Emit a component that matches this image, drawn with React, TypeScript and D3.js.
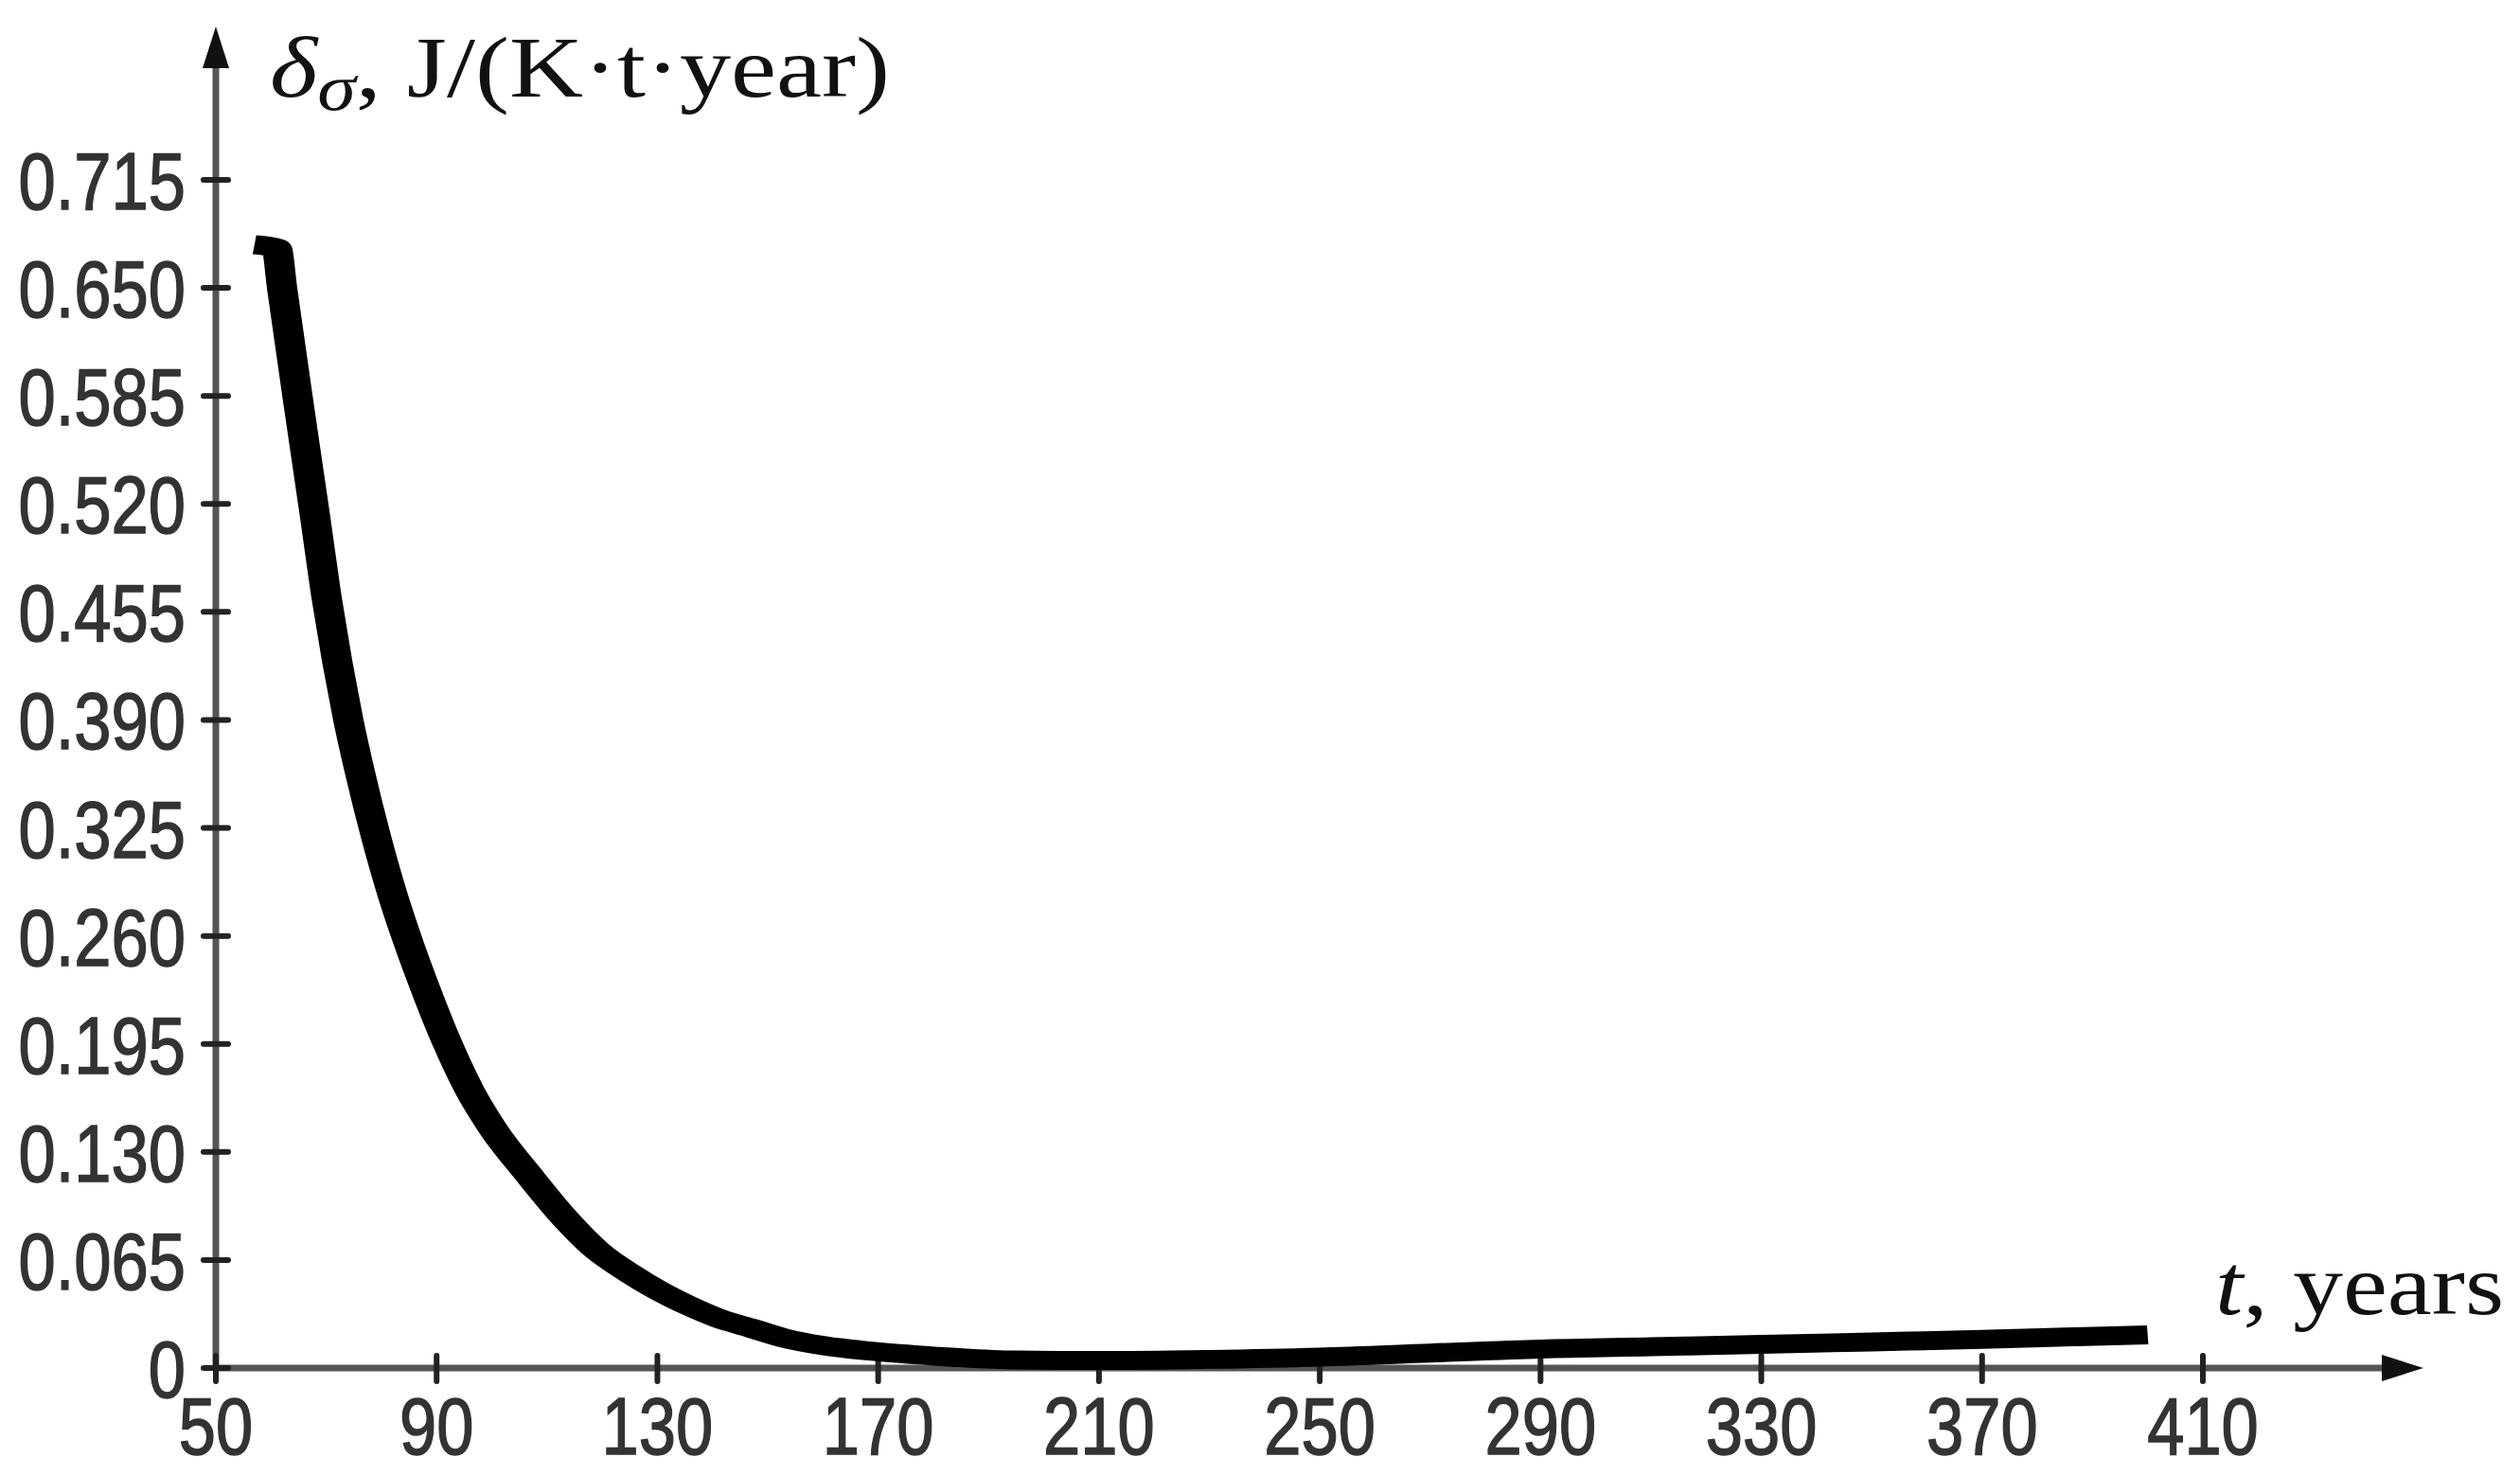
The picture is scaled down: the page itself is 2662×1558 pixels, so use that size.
import React, { useEffect, useRef } from 'react';
import * as d3 from 'd3';

// curve: t (years) and delta_sigma (J/(K·t·year))
const years = [
  57, 61, 62, 65, 68, 70, 72, 74, 76, 79, 82, 85, 88, 92, 96, 100, 107, 113,
  119, 125, 130, 136, 141, 147, 153, 160, 170, 180, 195, 210, 230, 250, 270,
  290, 310, 330, 350, 370, 385, 400,
];
const deltaSigma = [
  0.676, 0.674, 0.65, 0.58, 0.512, 0.465, 0.425, 0.39, 0.36, 0.32, 0.285,
  0.255, 0.228, 0.195, 0.167, 0.145, 0.115, 0.091, 0.071, 0.057, 0.047, 0.037,
  0.03, 0.024, 0.018, 0.0135, 0.0097, 0.0072, 0.0048, 0.0045, 0.0052, 0.0066,
  0.009, 0.0114, 0.0128, 0.0142, 0.0157, 0.0172, 0.0186, 0.02,
];

const xTicks = [50, 90, 130, 170, 210, 250, 290, 330, 370, 410];
const yTicks = [0, 0.065, 0.13, 0.195, 0.26, 0.325, 0.39, 0.455, 0.52, 0.585, 0.65, 0.715];
const yTickLabels = ['0', '0.065', '0.130', '0.195', '0.260', '0.325', '0.390', '0.455', '0.520', '0.585', '0.650', '0.715'];

const W = 2662;
const H = 1558;
const LABEL_SIZE = 86;

// narrow-font width for a numeric label (no condensed font is installed)
const labelWidth = (s) => {
  let w = 0;
  for (const c of String(s)) w += c === '.' ? 0.228 : 0.456;
  return w * LABEL_SIZE;
};

const App = () => {
  const ref = useRef(null);

  useEffect(() => {
    document.body.style.margin = '0';
    const svg = d3.select(ref.current);
    svg.selectAll('*').remove();

    const originX = 228;
    const originY = 1445;
    const x = d3.scaleLinear().domain([50, 410]).range([originX, 2327]);
    const y = d3.scaleLinear().domain([0, 0.715]).range([originY, 190]);

    const labelFont = '"Liberation Sans", Arial, sans-serif';
    const serif = '"Liberation Serif", "Times New Roman", serif';

    // axes
    svg.append('line')
      .attr('x1', originX).attr('y1', originY)
      .attr('x2', 2520).attr('y2', originY)
      .attr('stroke', '#555').attr('stroke-width', 7);
    svg.append('path')
      .attr('d', `M2560,${originY} L2516,${originY - 14} L2516,${originY + 14} Z`)
      .attr('fill', '#111');

    svg.append('line')
      .attr('x1', originX).attr('y1', originY)
      .attr('x2', originX).attr('y2', 70)
      .attr('stroke', '#555').attr('stroke-width', 7);
    svg.append('path')
      .attr('d', `M${originX},28 L${originX - 14},72 L${originX + 14},72 Z`)
      .attr('fill', '#111');

    // ticks
    svg.append('g')
      .selectAll('line')
      .data(xTicks)
      .join('line')
      .attr('x1', (d) => x(d)).attr('x2', (d) => x(d))
      .attr('y1', originY - 13).attr('y2', originY + 14)
      .attr('stroke', '#222').attr('stroke-width', 6)
      .attr('stroke-linecap', 'round');

    svg.append('g')
      .selectAll('line')
      .data(yTicks)
      .join('line')
      .attr('y1', (d) => y(d)).attr('y2', (d) => y(d))
      .attr('x1', originX - 13).attr('x2', originX + 13)
      .attr('stroke', '#222').attr('stroke-width', 6)
      .attr('stroke-linecap', 'round');

    // tick labels
    svg.append('g')
      .selectAll('text')
      .data(xTicks)
      .join('text')
      .attr('x', (d) => x(d))
      .attr('y', 1536)
      .attr('text-anchor', 'middle')
      .attr('font-family', labelFont)
      .attr('font-size', LABEL_SIZE)
      .attr('fill', '#333')
      .attr('stroke', '#333')
      .attr('stroke-width', 1.5)
      .attr('textLength', (d) => labelWidth(d))
      .attr('lengthAdjust', 'spacingAndGlyphs')
      .text((d) => d);

    svg.append('g')
      .selectAll('text')
      .data(yTicks)
      .join('text')
      .attr('x', (d, i) => 196 - labelWidth(yTickLabels[i]))
      .attr('y', (d) => y(d))
      .attr('dy', '0.36em')
      .attr('font-family', labelFont)
      .attr('font-size', LABEL_SIZE)
      .attr('fill', '#333')
      .attr('stroke', '#333')
      .attr('stroke-width', 1.5)
      .attr('textLength', (d, i) => labelWidth(yTickLabels[i]))
      .attr('lengthAdjust', 'spacingAndGlyphs')
      .text((d, i) => yTickLabels[i]);

    // axis titles
    const yTitle = svg.append('text')
      .attr('x', 285).attr('y', 102)
      .attr('font-family', serif)
      .attr('font-size', 92)
      .attr('fill', '#111')
      .attr('textLength', 655)
      .attr('lengthAdjust', 'spacingAndGlyphs');
    yTitle.append('tspan').attr('font-style', 'italic').text('δ');
    yTitle.append('tspan').attr('font-style', 'italic').attr('font-size', 70).attr('dy', 14).text('σ');
    yTitle.append('tspan').attr('dy', -14).text(', J/(K·t·year)');

    const xTitle = svg.append('text')
      .attr('x', 2340).attr('y', 1388)
      .attr('font-family', serif)
      .attr('font-size', 92)
      .attr('fill', '#111')
      .attr('textLength', 305)
      .attr('lengthAdjust', 'spacingAndGlyphs');
    xTitle.append('tspan').attr('font-style', 'italic').text('t');
    xTitle.append('tspan').text(', years');

    // curve, drawn in a horizontally stretched frame so steep parts look heavier
    const k = 1.6;
    const pts = years.map((t, i) => ({ t, v: deltaSigma[i] }));
    const line = d3.line()
      .x((d) => x(d.t) / k)
      .y((d) => y(d.v))
      .curve(d3.curveMonotoneX);

    svg.append('g')
      .attr('transform', `scale(${k},1)`)
      .append('path')
      .datum(pts)
      .attr('d', line)
      .attr('fill', 'none')
      .attr('stroke', '#000')
      .attr('stroke-width', 20)
      .attr('stroke-linejoin', 'round');
  }, []);

  return (
    <svg
      ref={ref}
      width={W}
      height={H}
      style={{ display: 'block', background: '#fff' }}
    />
  );
};

export default App;
